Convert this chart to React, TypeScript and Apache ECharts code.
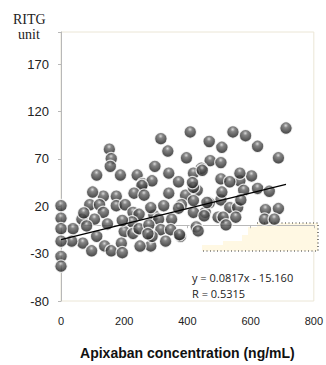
import React, { useEffect, useRef } from "react";
import * as echarts from "echarts";

// Apixaban concentration (ng/mL)
const concX: number[] = [
  712, 409, 544, 584, 316, 469, 622, 153, 509, 338, 159, 688, 397, 472, 506,
  156, 297, 444, 341, 419, 113, 188, 241, 603, 259, 288, 372, 506, 566, 534,
  431, 578, 622, 659, 256, 134, 175, 231, 91, 122, 175, 203, 134, 228, 247,
  294, 106, 66, 147, 225, 81, 38, 200, 113, 228, 69, 191, 138, 97, 159, 194,
  284, 34, 0, 0, 0, 0, 0, 0, 263, 341, 394, 381, 325, 284, 506, 469, 456,
  419, 497, 309, 350, 428, 247, 278, 316, 347, 378, 288, 331, 534, 559, 569,
  647, 688, 513, 553, 644, 675, 522, 447, 509, 419, 566, 419, 462, 453, 372,
  375, 434, 194, 275, 250, 100, 72, 416,
];
// RITG unit
const ritg: number[] = [
  102.6, 98.5, 98.5, 94.5, 91.4, 88.4, 83.3, 80.3, 82.3, 78.3, 70.2, 71.2,
  71.2, 68.2, 66.1, 62.1, 62.1, 60.1, 55.0, 55.0, 53.0, 53.0, 53.0, 52.0,
  43.9, 46.9, 45.9, 48.9, 46.9, 45.9, 36.8, 36.8, 38.8, 35.8, 41.9, 30.7,
  30.7, 33.8, 21.6, 21.6, 20.6, 21.6, 13.5, 13.5, 11.5, 10.5, 6.4, 6.4, 1.4,
  3.4, -0.7, -3.7, -6.7, -11.8, -8.7, -18.9, -18.9, -21.9, -27.0, -27.0,
  -29.0, -21.9, -16.8, 20.6, 7.4, -3.7, -16.8, -33.0, -43.2, 31.7, 33.8,
  31.7, 21.6, 20.6, 18.6, 26.7, 23.6, 13.5, 13.5, 8.5, 6.4, 6.4, -1.7, -3.7,
  0.4, -4.7, -4.7, -11.8, -11.8, -16.8, 18.6, 18.6, 26.7, 16.5, 17.6, 8.5,
  8.5, 6.4, 6.4, 0.4, 58.0, 35.0, 26.0, 55.0, 40.0, 24.0, 10.0, 18.0, -10.0,
  -6.0, 5.0, -9.0, -22.0, 35.0, 13.0, 45.0,
];

const slope = 0.0817;
const intercept = -15.16;
const fitX: number[] = [0, 712];

const xTicks: number[] = [0, 200, 400, 600, 800];
const yTicks: number[] = [-80, -30, 20, 70, 120, 170];

export default function App() {
  const ref = useRef<HTMLDivElement>(null);
  useEffect(() => {
    if (!ref.current) return;
    const chart = echarts.init(ref.current, null, { renderer: "svg" });
    const points = concX.map((x, i) => [x, ritg[i]]);
    const fit = fitX.map((x) => [x, +(slope * x + intercept).toFixed(2)]);
    const ball = {
      type: "radial",
      x: 0.48,
      y: 0.3,
      r: 0.62,
      colorStops: [
        { offset: 0, color: "#cfcfcf" },
        { offset: 0.3, color: "#666666" },
        { offset: 1, color: "#1f1f1f" },
      ],
    };
    chart.setOption({
      animation: false,
      backgroundColor: "#ffffff",
      grid: { left: 61, right: 9, top: 32, bottom: 52, show: true, borderColor: "#ebe6d6", borderWidth: 1 },
      xAxis: {
        type: "value",
        min: 0,
        max: 800,
        interval: 200,
        axisLine: { show: true, lineStyle: { color: "#b8b8b8", width: 1 } },
        axisTick: { show: true, length: 3, lineStyle: { color: "#b8b8b8" } },
        splitLine: { show: false },
        axisLabel: {
          color: "#222",
          fontFamily: "Liberation Sans",
          fontSize: 11,
          margin: 14,
          formatter: (v: number) => (xTicks.includes(v) ? String(v) : ""),
        },
        name: "Apixaban concentration (ng/mL)",
        nameLocation: "middle",
        nameGap: 45,
        nameTextStyle: { fontFamily: "Liberation Sans", fontWeight: "bold", fontSize: 14, color: "#111" },
      },
      yAxis: {
        type: "value",
        min: -80,
        max: 204,
        interval: 50,
        axisLine: { show: true, lineStyle: { color: "#b8b8b8", width: 1 } },
        axisTick: { show: true, length: 3, lineStyle: { color: "#b8b8b8" } },
        splitLine: { show: false },
        axisLabel: {
          color: "#222",
          fontFamily: "Liberation Sans",
          fontSize: 13,
          margin: 12,
          formatter: (v: number) => (yTicks.includes(v) ? String(v) : ""),
        },
      },
      graphic: [
        {
          type: "polygon",
          z: 0,
          silent: true,
          shape: {
            points: [
              [202, 251], [202, 245], [223, 245], [223, 241], [242, 241], [242, 235],
              [248, 235], [248, 227], [257, 227], [257, 223], [318, 223], [318, 251],
            ],
          },
          style: { fill: "#fff8e3" },
        },
        {
          type: "polyline",
          z: 1,
          silent: true,
          shape: { points: [[257, 223], [318, 223], [318, 251], [202, 251]] },
          style: { stroke: "#333", lineWidth: 1.2, lineDash: [1, 2.5], fill: null },
        },
        {
          type: "text",
          left: 13,
          top: 12,
          style: { text: "RITG", font: "14px 'Liberation Serif'", fill: "#222" },
        },
        {
          type: "text",
          left: 18,
          top: 27,
          style: { text: "unit", font: "14px 'Liberation Serif'", fill: "#222" },
        },
        {
          type: "text",
          left: 192,
          top: 272,
          z: 100,
          style: { text: "y = 0.0817x - 15.160", font: "11px 'Open Sans'", fill: "#222" },
        },
        {
          type: "text",
          left: 192,
          top: 288,
          z: 100,
          style: { text: "R = 0.5315", font: "11px 'Open Sans'", fill: "#222" },
        },
      ],
      series: [
        {
          type: "scatter",
          data: points,
          symbol: "circle",
          symbolSize: 12.5,
          z: 3,
          itemStyle: { color: ball, borderColor: "#ffffff", borderWidth: 1.2 },
        },
        {
          type: "line",
          data: fit,
          symbol: "none",
          z: 4,
          lineStyle: { color: "#000", width: 1.3 },
        },
      ],
    });
    return () => chart.dispose();
  }, []);
  return <div ref={ref} style={{ position: "fixed", left: 0, top: 0, width: 326, height: 365 }} />;
}
